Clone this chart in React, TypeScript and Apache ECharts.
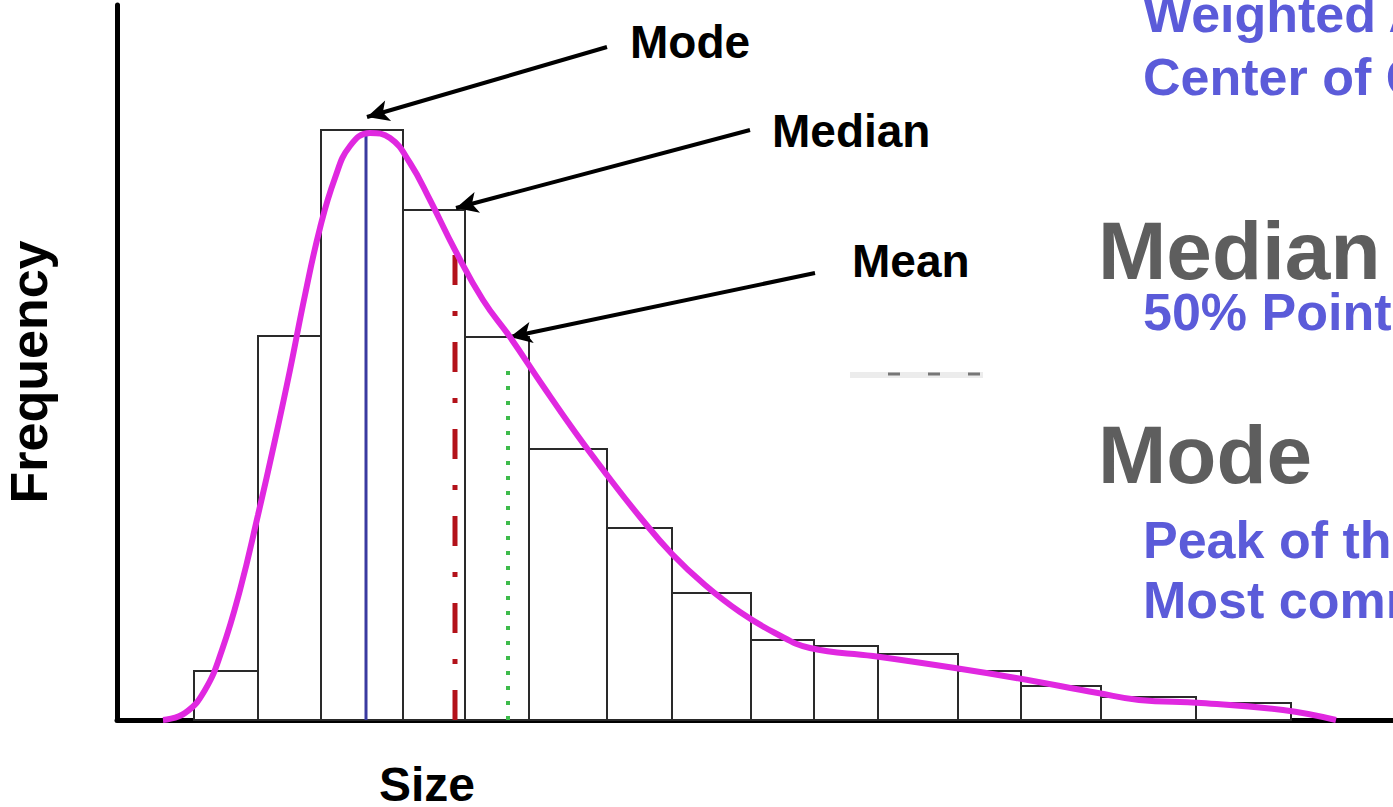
import React, { useEffect, useRef } from "react";
import * as echarts from "echarts";

// Histogram bins (Size units) and frequencies
const binEdges = [7.7, 14.1, 20.4, 28.6, 34.8, 41.2, 49.0, 55.5, 63.4, 69.7, 76.1, 84.1, 90.4, 98.4, 107.9, 117.4];
const binCounts = [4.9, 38.4, 59.0, 51.0, 38.3, 27.1, 19.2, 12.7, 8.0, 7.4, 6.6, 4.9, 3.4, 2.3, 1.7];

// Smoothed frequency curve
const curveX = [4.6, 6.8, 8.8, 10.5, 12.3, 14.1, 15.8, 17.3, 18.8, 20.3, 21.8, 23.3, 25.3, 27.3, 29.3, 31.3, 33.8, 36.6, 39.3, 42.6, 45.8, 49.0, 52.3, 55.5, 58.8, 62.3, 65.8, 69.3, 75.6, 83.8, 89.9, 98.1, 102.2, 108.4, 116.6, 121.9];
const curveY = [0, 0.7, 3.0, 7.0, 13.0, 20.5, 28.0, 35.0, 42.5, 49.2, 54.2, 57.4, 58.7, 58.2, 55.7, 52.0, 47.0, 42.0, 38.3, 33.4, 28.8, 24.5, 20.3, 16.6, 13.5, 10.8, 8.7, 7.2, 6.4, 5.2, 4.2, 2.7, 2.0, 1.7, 1.0, 0];

// Statistics markers: [x, height]
const modeLine = [24.9, 58.7];
const medianLine = [33.8, 46.5];
const meanLine = [39.1, 36.0];

// Annotation arrows: label, tail [x,y], head [x,y]
const arrowLabels = ["Mode", "Median", "Mean"];
const arrowTails = [[49.0, 67.3], [63.3, 59.0], [69.8, 44.7]];
const arrowHeads = [[25.0, 60.3], [33.9, 51.2], [39.3, 38.3]];

const X_MAX = 127.6;
const Y_MAX = 71.5;

export default function App() {
  const ref = useRef<HTMLDivElement>(null);
  useEffect(() => {
    if (!ref.current) return;
    const chart = echarts.init(ref.current, undefined, { renderer: "svg" });
    const bins = binCounts.map((c, i) => [binEdges[i], binEdges[i + 1], c]);
    const curve = curveX.map((x, i) => [x, curveY[i]]);
    const font = '"Liberation Sans", Arial, Helvetica, sans-serif';
    const blue = "#5b5bd9";
    const gray = "#5e5e5e";
    const statSeries = (v: number[], color: string, width: number, type: any) => ({
      type: "line",
      data: [[v[0], 0], [v[0], v[1]]],
      symbol: "none",
      silent: true,
      z: 3,
      lineStyle: { color, width, type },
    });
    const txt = (text: string, x: number, y: number, size: number, fill: string, extra: any = {}) => ({
      type: "text",
      x,
      y,
      ...extra,
      style: {
        text,
        font: `bold ${size}px ${font}`,
        fill,
        lineHeight: Math.round(size * 0.86),
        verticalAlign: "middle",
        textVerticalAlign: "middle",
        ...(extra.style || {}),
      },
    });
    const option: any = {
      animation: false,
      backgroundColor: "#ffffff",
      grid: { left: 117, right: 0, top: 5, bottom: 87 },
      xAxis: {
        type: "value", min: 0, max: X_MAX,
        axisLine: { show: true, onZero: false, lineStyle: { color: "#000", width: 5 } },
        axisTick: { show: false }, axisLabel: { show: false }, splitLine: { show: false },
      },
      yAxis: {
        type: "value", min: 0, max: Y_MAX,
        axisLine: { show: true, onZero: false, lineStyle: { color: "#000", width: 5 } },
        axisTick: { show: false }, axisLabel: { show: false }, splitLine: { show: false },
      },
      series: [
        {
          type: "custom",
          z: 1,
          silent: true,
          data: bins,
          encode: { x: [0, 1], y: 2 },
          renderItem: (params: any, api: any) => {
            const s = api.coord([api.value(0), 0]);
            const e = api.coord([api.value(1), api.value(2)]);
            return {
              type: "rect",
              shape: { x: s[0], y: e[1], width: e[0] - s[0], height: s[1] - e[1] },
              style: { fill: "#ffffff", stroke: "#2a2a2a", lineWidth: 2 },
            };
          },
        },
        statSeries(modeLine, "#3a3aa0", 3, "solid"),
        statSeries(medianLine, "#b3121a", 5, [30, 26, 5, 26]),
        statSeries(meanLine, "#3dbb4b", 4, [4, 11]),
        {
          type: "line",
          data: curve,
          smooth: 0.45,
          symbol: "none",
          silent: true,
          z: 5,
          lineStyle: { color: "#e028e0", width: 6 },
        },
        {
          type: "line",
          data: [],
          symbol: "none",
          silent: true,
          z: 6,
          markLine: {
            silent: true,
            symbol: ["none", "arrow"],
            symbolSize: [16, 22],
            label: { show: false },
            lineStyle: { color: "#000", width: 4, type: "solid" },
            data: arrowLabels.map((_, i) => [
              { coord: arrowTails[i] },
              { coord: arrowHeads[i] },
            ]),
          },
        },
      ],
      graphic: [
        txt(arrowLabels[0], 630, 42, 46, "#000"),
        txt(arrowLabels[1], 772, 131, 46, "#000"),
        txt(arrowLabels[2], 852, 261, 46, "#000"),
        txt("Size", 379, 784, 48, "#000"),
        txt("Frequency", 29, 372, 52, "#000", { rotation: Math.PI / 2, style: { align: "center", textAlign: "center" } }),
        txt("Weighted Average", 1143, 14, 52, blue),
        txt("Center of Gravity", 1143, 77, 52, blue),
        txt("Median", 1098, 250, 82, gray),
        txt("50% Point", 1143, 312, 52, blue),
        txt("Mode", 1098, 454, 82, gray),
        txt("Peak of the Curve", 1143, 540, 52, blue),
        txt("Most common value", 1143, 600, 52, blue),
        { type: "line", shape: { x1: 850, y1: 375, x2: 983, y2: 375 }, style: { stroke: "#ececec", lineWidth: 6 } },
        { type: "line", shape: { x1: 888, y1: 374, x2: 983, y2: 374 }, style: { stroke: "#777", lineWidth: 3, lineDash: [12, 28] } },
      ],
    };
    chart.setOption(option);
    return () => chart.dispose();
  }, []);
  return (
    <div
      ref={ref}
      style={{ position: "fixed", left: 0, top: 0, width: 1393, height: 807, background: "#fff" }}
    />
  );
}
